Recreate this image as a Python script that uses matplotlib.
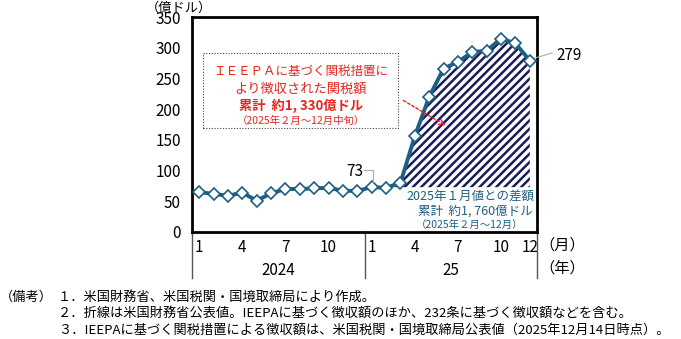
import matplotlib
matplotlib.use("Agg")
import matplotlib.pyplot as plt
import matplotlib.transforms as mtransforms
from matplotlib.patches import Rectangle, FancyArrowPatch
import numpy as np

plt.rcParams['font.family'] = ['Noto Sans CJK JP', 'DejaVu Sans']
plt.rcParams['hatch.linewidth'] = 1.8

# ── data ─────────────────────────────────────────────
months = list(range(1, 25))
values = [65, 62, 59, 64, 51, 63, 70, 70, 71, 72, 67, 67,
          73, 72, 80, 156, 220, 266, 277, 293, 295, 315, 307, 279]
base_value = 73  # 2025年1月値
tick_pos = [1, 4, 7, 10, 13, 16, 19, 22, 24]
tick_labels = ['1', '4', '7', '10', '1', '4', '7', '10', '12']
years = ['2024', '25']
notes = [
    ('（備考）', '１．米国財務省、米国税関・国境取締局により作成。'),
    ('', '２．折線は米国財務省公表値。IEEPAに基づく徴収額のほか、232条に基づく徴収額などを含む。'),
    ('', '３．IEEPAに基づく関税措置による徴収額は、米国税関・国境取締局公表値（2025年12月14日時点）。'),
]

line_c = '#1d5f82'
hatch_c = '#1a1d5c'
red = '#e5261f'

W, H = 681, 339
fig = plt.figure(figsize=(W / 100, H / 100), dpi=100)
ax = fig.add_axes([192 / W, 1 - 232 / H, (537 - 192) / W, (232 - 17) / H])

def fx(px):
    return px / W

def fy(py):
    return 1 - py / H

# hatched area above Jan-2025 level
x = np.array(months[13:], dtype=float)
v = np.array(values[13:], dtype=float)
ax.fill_between(x, base_value, v, where=v >= base_value, interpolate=True,
                facecolor='white', edgecolor=hatch_c, hatch='////', linewidth=0, zorder=1)

ax.plot(months, values, color=line_c, lw=2.8, zorder=3, marker='D', ms=6.5,
        mfc='white', mec=line_c, mew=1.2)

ax.set_xlim(0.5, 24.5)
ax.set_ylim(0, 350)
ax.set_yticks(range(0, 351, 50))
ax.set_xticks(tick_pos)
ax.set_xticklabels(tick_labels)
ax.tick_params(axis='x', length=0, pad=5, labelsize=11)
ax.tick_params(axis='y', length=0, pad=8, labelsize=11)
for s in ax.spines.values():
    s.set_linewidth(2)

# year separators and labels
trans = mtransforms.blended_transform_factory(ax.transData, ax.transAxes)
for xs in [0.5, 12.5, 24.5]:
    ax.plot([xs, xs], [0, -0.215], transform=trans, color='#555555', lw=1, clip_on=False)
ax.text(6.5, -0.18, years[0], transform=trans, ha='center', va='center', fontsize=11)
ax.text(18.5, -0.18, years[1], transform=trans, ha='center', va='center', fontsize=11)
fig.text(fx(539), fy(245), '（月）', ha='left', va='center', fontsize=11)
fig.text(fx(539), fy(268), '（年）', ha='left', va='center', fontsize=11)
fig.text(fx(146), fy(8), '（億ドル）', ha='left', va='center', fontsize=9.5)

# value labels
ax.text(13 - 1.15, 98, '73', ha='center', va='center', fontsize=11)
fig.lines.append(plt.Line2D([fx(364), fx(372.7), fx(372.7)], [fy(170), fy(170), fy(181.7)],
                            transform=fig.transFigure, color='#aaaaaa', lw=0.8))
fig.text(fx(556), fy(55), '279', ha='left', va='center', fontsize=11)
fig.lines.append(plt.Line2D([fx(535), fx(552)], [fy(58), fy(53)],
                            transform=fig.transFigure, color='#aaaaaa', lw=0.8))

# red annotation box
fig.patches.append(Rectangle((fx(203), fy(128)), fx(398 - 203), (128 - 53) / H,
                             transform=fig.transFigure, fill=False, ec='#444444',
                             lw=0.8, ls=(0, (1, 1.5))))
fig.text(fx(301), fy(71), 'ＩＥＥＰＡに基づく関税措置に', color=red, ha='center', va='center', fontsize=9)
fig.text(fx(301), fy(89), 'より徴収された関税額', color=red, ha='center', va='center', fontsize=9.5)
fig.text(fx(301), fy(106), '累計  約1, 330億ドル', color=red, ha='center', va='center',
         fontsize=9.5, fontweight='bold')
fig.text(fx(301), fy(121), '（2025年２月～12月中旬）', color=red, ha='center', va='center', fontsize=7.5)
fig.patches.append(FancyArrowPatch((fx(401), fy(99)), (fx(448), fy(127)),
                                   transform=fig.transFigure, arrowstyle='->', color=red,
                                   lw=1, ls=(0, (2, 1.5)), mutation_scale=10))

# blue text
fig.text(fx(470), fy(196), '2025年１月値との差額', color=line_c, ha='center', va='center', fontsize=9)
fig.text(fx(475), fy(211), '累計  約1, 760億ドル', color=line_c, ha='center', va='center', fontsize=9)
fig.text(fx(470), fy(225), '（2025年２月～12月）', color=line_c, ha='center', va='center', fontsize=7.5)

# notes
for i, (head, body) in enumerate(notes):
    yy = fy(297 + i * 16.5)
    if head:
        fig.text(fx(0), yy, head, ha='left', va='center', fontsize=9.5)
    fig.text(fx(58), yy, body, ha='left', va='center', fontsize=9.5)

fig.savefig('out.png', dpi=100)
